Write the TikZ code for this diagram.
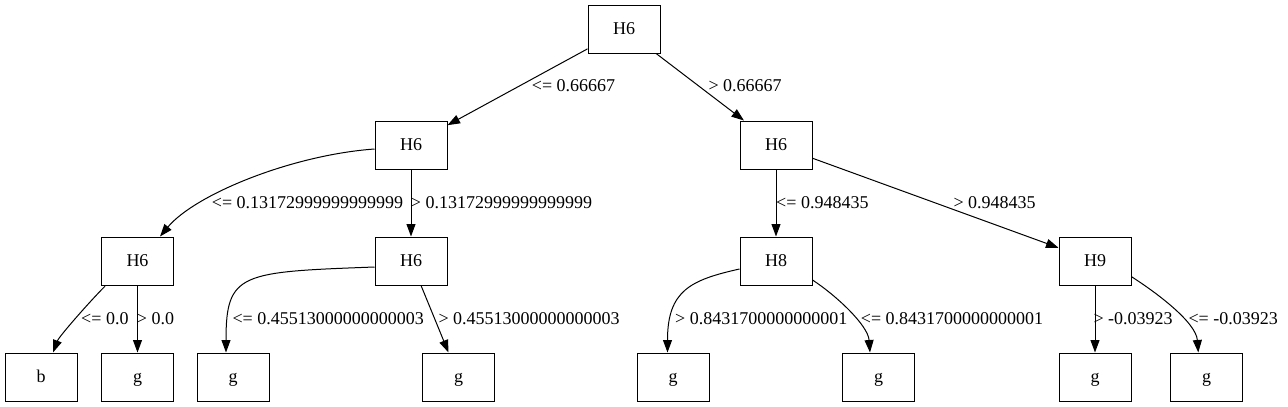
\documentclass[tikz,border=0pt]{standalone}
\usepackage{fontspec}
\setmainfont{Liberation Serif}
\usetikzlibrary{arrows.meta}
\begin{document}
\begin{tikzpicture}[x=1pt,y=1pt,
  box/.style={draw, line width=1pt, minimum width=72pt, minimum height=48pt, inner sep=0pt,
              text height=11pt, text depth=0pt, font=\fontsize{18}{20}\selectfont},
  lbl/.style={anchor=base west, inner sep=0pt, font=\fontsize{18}{20}\selectfont},
  conn/.style={line width=1pt, -{Triangle[length=12.5pt,width=9pt]}},
]
\fill[white] (0,0) rectangle (1288,-407);
\useasboundingbox (0,0) rectangle (1288,-407);

% decision nodes
\node[box] (r) at (624,-29) {H6};
\node[box] (a) at (411,-145) {H6};
\node[box] (b) at (776,-145) {H6};
\node[box] (c) at (137.5,-261) {H6};
\node[box] (d) at (411,-261) {H6};
\node[box] (e) at (776,-261) {H8};
\node[box] (f) at (1095,-261) {H9};
% leaves
\node[box] (l1) at (41,-377) {b};
\node[box] (l2) at (137.5,-377) {g};
\node[box] (l3) at (233,-377) {g};
\node[box] (l4) at (458.5,-377) {g};
\node[box] (l5) at (673,-377) {g};
\node[box] (l6) at (878.5,-377) {g};
\node[box] (l7) at (1095,-377) {g};
\node[box] (l8) at (1206.5,-377) {g};

% connectors
\draw[conn] (r) -- (a);
\draw[conn] (r) -- (b);
\draw[conn] ([yshift=-4pt]a.west) .. controls +(-83,-6) and +(35,42) .. ([xshift=22.5pt]c.north);
\draw[conn] (a) -- (d);
\draw[conn] (b) -- (e);
\draw[conn] (b) -- (f);
\draw[conn] ([xshift=4pt,yshift=-0.7pt]c.south west) .. controls +(-15,-15) and +(6,16) .. ([xshift=12pt]l1.north);
\draw[conn] (c) -- (l2);
\draw[conn] ([yshift=-6pt]d.west) .. controls +(-134,-5) and +(0,80) .. ([xshift=-7pt]l3.north);
\draw[conn] (d) -- (l4);
\draw[conn] ([yshift=-8pt]e.west) .. controls +(-49,-11) and +(0,62) .. ([xshift=-5.5pt]l5.north);
\draw[conn] ([yshift=-19pt]e.east) .. controls +(23,-15) and +(-2,27.5) .. ([xshift=-8.5pt]l6.north);
\draw[conn] (f) -- (l7);
\draw[conn] ([yshift=-15.7pt]f.east) .. controls +(24,-15.3) and +(-2.3,30.5) .. ([xshift=-8.2pt]l8.north);

% edge labels
\node[lbl] (t1) at (531.7,-91.7) {<= 0.66667};
\node[lbl] (t2) at (708.3,-91.7) {> 0.66667};
\node[lbl] (t3) at (211.7,-208) {<= 0.13172999999999999};
\node[lbl] (t4) at (410.7,-208) {> 0.13172999999999999};
\node[lbl] (t5) at (776,-208) {<= 0.948435};
\node[lbl] (t6) at (953.3,-208) {> 0.948435};
\node[lbl] (t7) at (81,-324) {<= 0.0};
\node[lbl] (t8) at (136.7,-324) {> 0.0};
\node[lbl] (t9) at (232.3,-324) {<= 0.45513000000000003};
\node[lbl] (t10) at (438.3,-324) {> 0.45513000000000003};
\node[lbl] (t11) at (675,-324) {> 0.8431700000000001};
\node[lbl] (t12) at (860.7,-324) {<= 0.8431700000000001};
\node[lbl] (t13) at (1093.3,-324) {> -0.03923};
\node[lbl] (t14) at (1188.3,-324) {<= -0.03923};
\end{tikzpicture}
\end{document}
